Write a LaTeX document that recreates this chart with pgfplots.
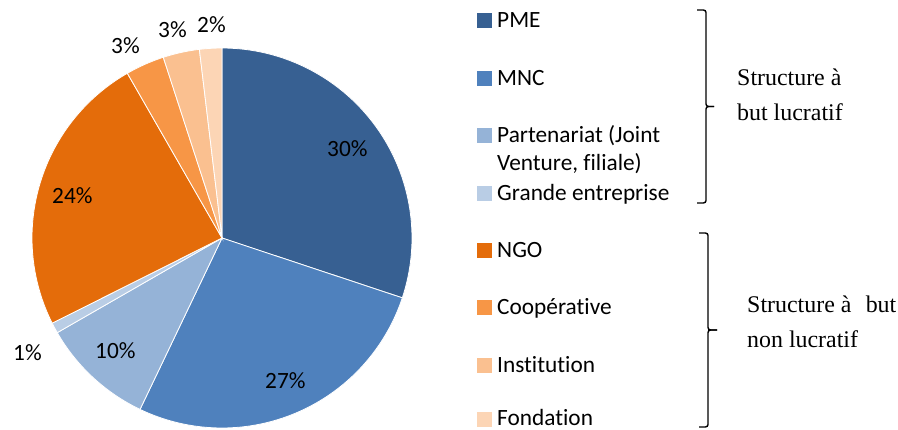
\documentclass[border=0pt]{standalone}
\usepackage{pgfplots}
\pgfplotsset{compat=1.18}
\usepackage{fontspec}
\setmainfont[Ligatures=NoCommon]{Carlito}
\newfontfamily\tnr{Liberation Serif}
\definecolor{cPME}{HTML}{376092}
\definecolor{cMNC}{HTML}{4F81BD}
\definecolor{cPart}{HTML}{95B3D7}
\definecolor{cGE}{HTML}{B9CDE5}
\definecolor{cNGO}{HTML}{E46C0A}
\definecolor{cCoop}{HTML}{F79646}
\definecolor{cInst}{HTML}{FAC090}
\definecolor{cFond}{HTML}{FCD5B5}
\tikzset{
  lab/.style={inner sep=0pt, anchor=base west, font=\fontsize{23.4}{27}\selectfont},
  tnr/.style={inner sep=0pt, anchor=base west, font=\tnr\fontsize{24}{28}\selectfont},
  brc/.style={line width=1.4bp, rounded corners=2.5bp},
}
% slice shares (percent), clockwise from 12 o'clock:
% PME 30.1, MNC 27.0, Partenariat 9.6, Grande entreprise 0.9,
% NGO 24.1, Cooperative 3.3, Institution 3.1, Fondation 1.9
\begin{document}
\begin{tikzpicture}
\begin{axis}[
  scale only axis, width=898bp, height=430bp,
  xmin=0, xmax=898, ymin=0, ymax=430,
  hide axis, clip=false,
]
% pie wedges (domain = cumulative percent)
\addplot[fill=cPME,  draw=white, line width=0.8bp, domain=0:30.1,    samples=80, variable=\t] ({222+190*sin(3.6*\t)},{192+190*cos(3.6*\t)}) -- (axis cs:222,192) -- cycle;
\addplot[fill=cMNC,  draw=white, line width=0.8bp, domain=30.1:57.1, samples=80, variable=\t] ({222+190*sin(3.6*\t)},{192+190*cos(3.6*\t)}) -- (axis cs:222,192) -- cycle;
\addplot[fill=cPart, draw=white, line width=0.8bp, domain=57.1:66.7, samples=40, variable=\t] ({222+190*sin(3.6*\t)},{192+190*cos(3.6*\t)}) -- (axis cs:222,192) -- cycle;
\addplot[fill=cGE,   draw=white, line width=0.8bp, domain=66.7:67.6, samples=10, variable=\t] ({222+190*sin(3.6*\t)},{192+190*cos(3.6*\t)}) -- (axis cs:222,192) -- cycle;
\addplot[fill=cNGO,  draw=white, line width=0.8bp, domain=67.6:91.7, samples=80, variable=\t] ({222+190*sin(3.6*\t)},{192+190*cos(3.6*\t)}) -- (axis cs:222,192) -- cycle;
\addplot[fill=cCoop, draw=white, line width=0.8bp, domain=91.7:95.0, samples=15, variable=\t] ({222+190*sin(3.6*\t)},{192+190*cos(3.6*\t)}) -- (axis cs:222,192) -- cycle;
\addplot[fill=cInst, draw=white, line width=0.8bp, domain=95.0:98.1, samples=15, variable=\t] ({222+190*sin(3.6*\t)},{192+190*cos(3.6*\t)}) -- (axis cs:222,192) -- cycle;
\addplot[fill=cFond, draw=white, line width=0.8bp, domain=98.1:100,  samples=10, variable=\t] ({222+190*sin(3.6*\t)},{192+190*cos(3.6*\t)}) -- (axis cs:222,192) -- cycle;

% data labels
\node[lab] at (axis cs:327,274) {30\%};
\node[lab] at (axis cs:265,42) {27\%};
\node[lab] at (axis cs:95,72) {10\%};
\node[lab] at (axis cs:13,70) {1\%};
\node[lab] at (axis cs:52,227) {24\%};
\node[lab] at (axis cs:111,377) {3\%};
\node[lab] at (axis cs:158,393) {3\%};
\node[lab] at (axis cs:197,398) {2\%};

% legend markers
\addplot[only marks, mark=square*, mark size=6.8bp, color=cPME]  coordinates {(484,410)};
\addplot[only marks, mark=square*, mark size=6.8bp, color=cMNC]  coordinates {(484,352)};
\addplot[only marks, mark=square*, mark size=6.8bp, color=cPart] coordinates {(484,295)};
\addplot[only marks, mark=square*, mark size=6.8bp, color=cGE]   coordinates {(484,237)};
\addplot[only marks, mark=square*, mark size=6.8bp, color=cNGO]  coordinates {(484,180)};
\addplot[only marks, mark=square*, mark size=6.8bp, color=cCoop] coordinates {(484,123)};
\addplot[only marks, mark=square*, mark size=6.8bp, color=cInst] coordinates {(484,65)};
\addplot[only marks, mark=square*, mark size=6.8bp, color=cFond] coordinates {(484,11)};

\node[lab] at (axis cs:497,403) {PME};
\node[lab] at (axis cs:497,345) {MNC};
\node[lab] at (axis cs:497,288) {Partenariat (Joint};
\node[lab] at (axis cs:497,260) {Venture, filiale)};
\node[lab] at (axis cs:497,230) {Grande entreprise};
\node[lab] at (axis cs:497,173) {NGO};
\node[lab] at (axis cs:497,116) {Coopérative};
\node[lab] at (axis cs:497,58) {Institution};
\node[lab] at (axis cs:497,5) {Fondation};

% braces
\draw[brc] (axis cs:697,420) -- (axis cs:706,420) -- (axis cs:706,323.5) -- (axis cs:714,323.5);
\draw[brc] (axis cs:714,323.5) -- (axis cs:706,323.5) -- (axis cs:706,227) -- (axis cs:697,227);
\draw[brc] (axis cs:699,197) -- (axis cs:708,197) -- (axis cs:708,100) -- (axis cs:717,100);
\draw[brc] (axis cs:717,100) -- (axis cs:708,100) -- (axis cs:708,3) -- (axis cs:699,3);

\node[tnr] at (axis cs:737,345) {Structure à};
\node[tnr] at (axis cs:737,310) {but lucratif};
\node[tnr] at (axis cs:747,118) {Structure à\hspace{0.35em} but};
\node[tnr] at (axis cs:747,83) {non lucratif};
\end{axis}
\pgfresetboundingbox
\path (current axis.south west) rectangle (current axis.north east);
\end{tikzpicture}
\end{document}
